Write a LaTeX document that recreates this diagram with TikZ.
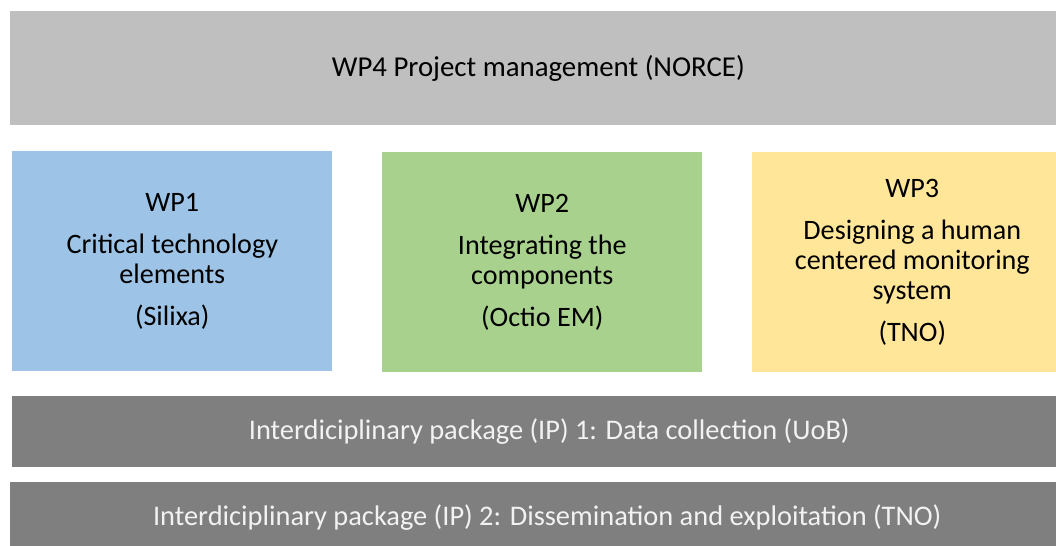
\documentclass[tikz,border=0pt]{standalone}
\usepackage{fontspec}
\setmainfont{Carlito}
\definecolor{pmgray}{HTML}{BFBFBF}
\definecolor{wpblue}{HTML}{9DC3E6}
\definecolor{wpgreen}{HTML}{A9D18E}
\definecolor{wpyellow}{HTML}{FFE699}
\definecolor{ipgray}{HTML}{7F7F7F}
\newcommand{\px}{0.025cm}

\begin{document}
\begin{tikzpicture}[x=\px,y=-\px,
    block/.style={anchor=north west, inner sep=0pt, align=center, text=black},
    wpbox/.style={block, minimum width=320*\px, minimum height=220*\px,
      font=\fontsize{20pt}{21.5pt}\selectfont},
    ipbar/.style={block, fill=ipgray, text=white!95!black, minimum width=1074*\px,
      minimum height=71*\px, font=\fontsize{20.2pt}{24pt}\selectfont}]
  \useasboundingbox (0,0) rectangle (1056,545);
  \clip (0,0) rectangle (1056,545);
  % management on top
  \node[block, fill=pmgray, minimum width=1056*\px, minimum height=114*\px,
    font=\fontsize{20.5pt}{24pt}\selectfont] (wp4) at (10,11) {WP4 Project management (NORCE)};
  % the three work packages
  \node[wpbox, fill=wpblue] (wp1) at (12,151)
    {WP1\\[8.5pt] Critical technology\\ elements\\[8.5pt] (Silixa)};
  \node[wpbox, fill=wpgreen] (wp2) at (382,152)
    {WP2\\[8.5pt] Integrating the\\ components\\[8.5pt] (Octio EM)};
  \node[wpbox, fill=wpyellow] (wp3) at (752,152)
    {WP3\\[8pt] Designing a human\\ centered monitoring\\ system\\[8pt] (TNO)};
  % interdisciplinary packages
  \node[ipbar] (ip1) at (12,396) {Interdiciplinary package (IP) 1: Data collection (UoB)};
  \node[ipbar] (ip2) at (10,482) {Interdiciplinary package (IP) 2: Dissemination and exploitation (TNO)};
\end{tikzpicture}
\end{document}
